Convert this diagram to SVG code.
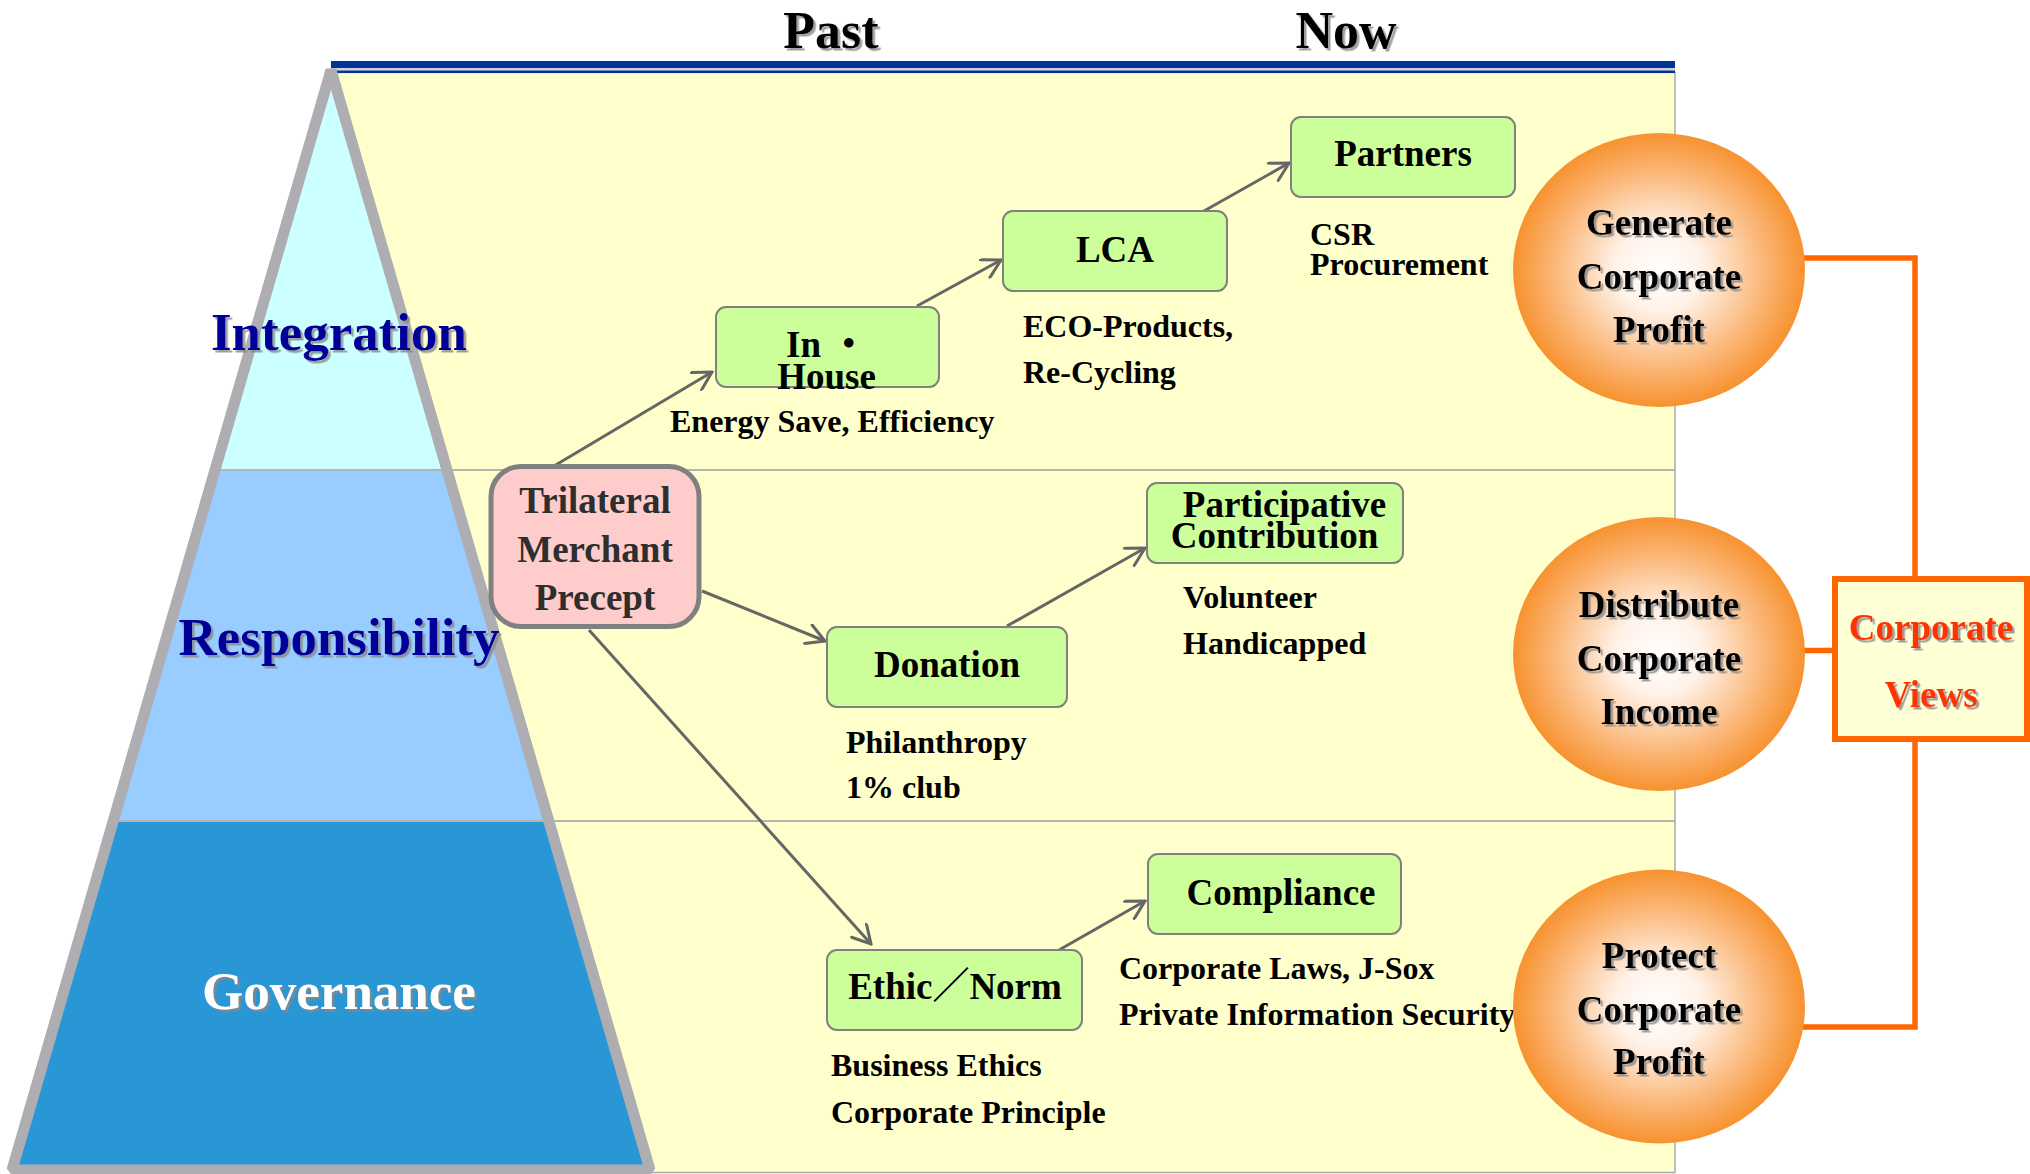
<svg xmlns="http://www.w3.org/2000/svg" width="2030" height="1174" viewBox="0 0 2030 1174">
<style>
text{font-family:"Liberation Serif","Times New Roman","Noto Sans CJK JP",serif;font-weight:bold}
.lbl{font-size:32px;fill:#000}
.bx{fill:#CCFF99;stroke:#808080;stroke-width:2}
.bt{font-size:37px;fill:#000;text-anchor:middle}
.lvl{font-size:53px;text-anchor:middle;filter:url(#sh)}
.ct{font-size:37px;fill:#000;text-anchor:middle;filter:url(#sh)}
.arr{fill:none;stroke:#666;stroke-width:3;marker-end:url(#ah)}
.ol{fill:none;stroke:#FF6600;stroke-width:5.5}
</style>
<defs>
<filter id="sh" x="-10%" y="-20%" width="130%" height="150%">
<feDropShadow dx="2.5" dy="2.5" stdDeviation="0.6" flood-color="#888" flood-opacity="0.8"/>
</filter>
<radialGradient id="og" cx="50%" cy="50%" r="50%">
<stop offset="0" stop-color="#FFFFFF"/>
<stop offset="0.3" stop-color="#FFF2E8"/>
<stop offset="0.7" stop-color="#FBB97C"/>
<stop offset="1" stop-color="#F7922F"/>
</radialGradient>
<clipPath id="tri"><polygon points="331,70 12,1170 650,1170"/></clipPath>
<marker id="ah" markerUnits="userSpaceOnUse" viewBox="0 0 22 22" refX="20" refY="11" markerWidth="22" markerHeight="22" orient="auto">
<path d="M2,1 L20,11 L2,21" fill="none" stroke="#666" stroke-width="3" stroke-linecap="round" stroke-linejoin="miter"/>
</marker>
</defs>

<g id="background">
<rect x="331" y="72.5" width="1344" height="1100" fill="#FFFFCC" stroke="#AAAAAA" stroke-width="1.5"/>
<rect x="331" y="61" width="1344" height="7" fill="#003399"/>
<rect x="331" y="68" width="1344" height="2.5" fill="#D0D0D8"/>
<rect x="331" y="70.5" width="1344" height="2.5" fill="#003399"/>
</g>

<g id="pyramid">
<g clip-path="url(#tri)">
<rect x="0" y="60" width="700" height="410" fill="#CCFFFF"/>
<rect x="0" y="470" width="700" height="351" fill="#99CCFF"/>
<rect x="0" y="821" width="700" height="360" fill="#2996D5"/>
</g>
<line x1="215" y1="470" x2="1675" y2="470" stroke="#B4B4B4" stroke-width="2"/>
<line x1="113" y1="821" x2="1675" y2="821" stroke="#B4B4B4" stroke-width="2"/>
<polygon points="331,70 12,1170 650,1170" fill="none" stroke="#ADADB2" stroke-width="11" stroke-linejoin="bevel"/>
</g>

<g id="header">
<text x="831" y="48" font-size="52" text-anchor="middle" fill="#000" filter="url(#sh)">Past</text>
<text x="1346" y="48" font-size="52" text-anchor="middle" fill="#000" filter="url(#sh)">Now</text>
</g>

<g id="level-integration"><text class="lvl" x="339" y="350" fill="#000099">Integration</text></g>
<g id="level-responsibility"><text class="lvl" x="339" y="655" fill="#000099">Responsibility</text></g>
<g id="level-governance"><text class="lvl" x="339" y="1009" fill="#FFFFFF">Governance</text></g>

<g id="connectors">
<line class="arr" x1="554" y1="466" x2="712" y2="372"/>
<line class="arr" x1="917" y1="306" x2="1001" y2="260"/>
<line class="arr" x1="1204" y1="211" x2="1289" y2="163"/>
<line class="arr" x1="702" y1="591" x2="825" y2="641"/>
<line class="arr" x1="1007" y1="626" x2="1145" y2="548"/>
<line class="arr" x1="589" y1="630" x2="871" y2="944"/>
<line class="arr" x1="1059" y1="950" x2="1145" y2="901"/>
<path class="ol" d="M1800,258 H1915 V579"/>
<path class="ol" d="M1800,650.5 H1835"/>
<path class="ol" d="M1800,1027 H1915 V739"/>
</g>

<g id="node-trilateral">
<rect x="491" y="466.5" width="208" height="160" rx="30" fill="#FFCCCC" stroke="#808080" stroke-width="5"/>
<text x="595" y="513" font-size="37" text-anchor="middle" fill="#2E2E2E">Trilateral</text>
<text x="595" y="562" font-size="37" text-anchor="middle" fill="#2E2E2E">Merchant</text>
<text x="595" y="610" font-size="37" text-anchor="middle" fill="#2E2E2E">Precept</text>
</g>

<g id="node-inhouse">
<rect class="bx" x="716" y="307" width="223" height="80" rx="10"/>
<text x="786" y="357" font-size="37" fill="#000">In ・</text>
<text class="bt" x="826.5" y="389">House</text>
</g>
<g id="label-inhouse"><text class="lbl" x="670" y="432">Energy Save, Efficiency</text></g>

<g id="node-lca">
<rect class="bx" x="1003" y="211" width="224" height="80" rx="10"/>
<text class="bt" x="1115" y="262">LCA</text>
</g>
<g id="label-lca">
<text class="lbl" x="1023" y="337">ECO-Products,</text>
<text class="lbl" x="1023" y="383">Re-Cycling</text>
</g>

<g id="node-partners">
<rect class="bx" x="1291" y="117" width="224" height="80" rx="10"/>
<text class="bt" x="1403" y="166">Partners</text>
</g>
<g id="label-partners">
<text class="lbl" x="1310" y="245">CSR</text>
<text class="lbl" x="1310" y="275">Procurement</text>
</g>

<g id="node-donation">
<rect class="bx" x="827" y="627" width="240" height="80" rx="10"/>
<text class="bt" x="947" y="677">Donation</text>
</g>
<g id="label-donation">
<text class="lbl" x="846" y="753">Philanthropy</text>
<text class="lbl" x="846" y="798">1% club</text>
</g>

<g id="node-participative">
<rect class="bx" x="1147" y="483" width="256" height="80" rx="10"/>
<text class="bt" x="1284.5" y="517">Participative</text>
<text class="bt" x="1274.5" y="548">Contribution</text>
</g>
<g id="label-participative">
<text class="lbl" x="1183" y="608">Volunteer</text>
<text class="lbl" x="1183" y="654">Handicapped</text>
</g>

<g id="node-ethic">
<rect class="bx" x="827" y="950" width="255" height="80" rx="10"/>
<text class="bt" x="955" y="999">Ethic／Norm</text>
</g>
<g id="label-ethic">
<text class="lbl" x="831" y="1076">Business Ethics</text>
<text class="lbl" x="831" y="1123">Corporate Principle</text>
</g>

<g id="node-compliance">
<rect class="bx" x="1148" y="854" width="253" height="80" rx="10"/>
<text class="bt" x="1281" y="905">Compliance</text>
</g>
<g id="label-compliance">
<text class="lbl" x="1119" y="979">Corporate Laws, J-Sox</text>
<text class="lbl" x="1119" y="1025">Private Information Security</text>
</g>

<g id="node-generate">
<ellipse cx="1659" cy="270" rx="146" ry="137" fill="url(#og)"/>
<text class="ct" x="1659" y="235">Generate</text>
<text class="ct" x="1659" y="289">Corporate</text>
<text class="ct" x="1659" y="342">Profit</text>
</g>
<g id="node-distribute">
<ellipse cx="1659" cy="654" rx="146" ry="137" fill="url(#og)"/>
<text class="ct" x="1659" y="617">Distribute</text>
<text class="ct" x="1659" y="671">Corporate</text>
<text class="ct" x="1659" y="724">Income</text>
</g>
<g id="node-protect">
<ellipse cx="1659" cy="1006.5" rx="146" ry="137" fill="url(#og)"/>
<text class="ct" x="1659" y="968">Protect</text>
<text class="ct" x="1659" y="1022">Corporate</text>
<text class="ct" x="1659" y="1074">Profit</text>
</g>

<g id="node-corporate-views">
<rect x="1835" y="579" width="192" height="160" fill="#FFFFD6" stroke="#FF6600" stroke-width="6"/>
<text x="1931" y="640" font-size="37" text-anchor="middle" fill="#FF3300" filter="url(#sh)">Corporate</text>
<text x="1931" y="707" font-size="37" text-anchor="middle" fill="#FF3300" filter="url(#sh)">Views</text>
</g>
</svg>
